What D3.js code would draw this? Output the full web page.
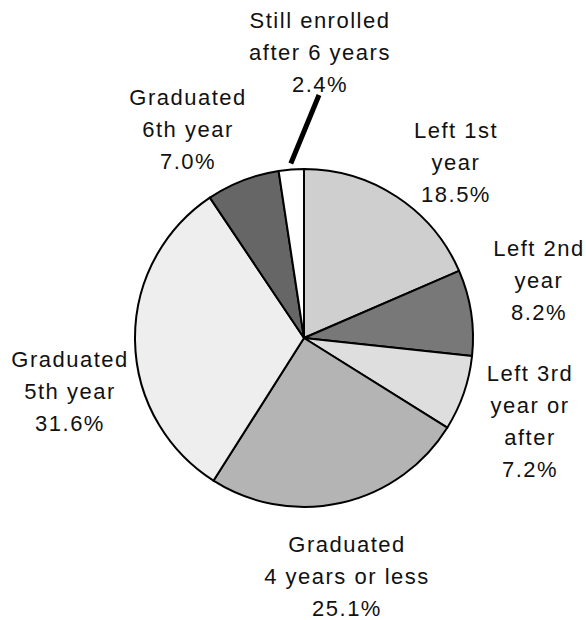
<!DOCTYPE html>
<html>
<head>
<meta charset="utf-8">
<script src="https://cdn.jsdelivr.net/npm/d3@7"></script>
<style>
  html, body { margin: 0; padding: 0; background: #fff; }
  svg text { font-family: "Liberation Sans", Arial, sans-serif; font-size: 22px; letter-spacing: 1.5px; fill: #111; }
</style>
</head>
<body>
<div id="chart"></div>
<script>
  // slices, clockwise from 12 o'clock
  var categories = ['Left 1st year', 'Left 2nd year', 'Left 3rd year or after',
    'Graduated 4 years or less', 'Graduated 5th year', 'Graduated 6th year',
    'Still enrolled after 6 years'];
  var values = [18.5, 8.2, 7.2, 25.1, 31.6, 7.0, 2.4];
  var fills = ['#cfcfcf', '#787878', '#dedede', '#b4b4b4', '#eeeeee', '#666666', '#ffffff'];
  var labelLines = [
    ['Left 1st', 'year', '18.5%'],
    ['Left 2nd', 'year', '8.2%'],
    ['Left 3rd', 'year or', 'after', '7.2%'],
    ['Graduated', '4 years or less', '25.1%'],
    ['Graduated', '5th year', '31.6%'],
    ['Graduated', '6th year', '7.0%'],
    ['Still enrolled', 'after 6 years', '2.4%']
  ];
  // first baseline of each label block
  var labelPos = [[456, 138], [539, 256], [530, 381], [347, 552], [70, 367], [188, 105], [320, 28]];

  var width = 586, height = 620,
      cx = 304, cy = 338,
      radius = 169,
      lineHeight = 32;

  var svg = d3.select('#chart')
    .append('svg')
    .attr('width', width)
    .attr('height', height);

  var pie = d3.pie().sort(null).value(function(d) { return d; });
  var arc = d3.arc().innerRadius(0).outerRadius(radius);
  var arcs = pie(values);

  var g = svg.append('g')
    .attr('transform', 'translate(' + cx + ',' + cy + ')');

  g.selectAll('path')
    .data(arcs)
    .enter()
    .append('path')
    .attr('d', arc)
    .attr('fill', function(d, i) { return fills[i]; })
    .attr('stroke', '#000')
    .attr('stroke-width', 2)
    .attr('stroke-linejoin', 'round');

  // leader line for the small "still enrolled" slice
  var small = arcs[6];
  var mid = (small.startAngle + small.endAngle) / 2;
  var p0 = [Math.sin(mid) * (radius + 6), -Math.cos(mid) * (radius + 6)];
  g.append('line')
    .attr('x1', p0[0])
    .attr('y1', p0[1])
    .attr('x2', 319 - cx)
    .attr('y2', 95 - cy)
    .attr('stroke', '#000')
    .attr('stroke-width', 5);

  labelLines.forEach(function(lines, i) {
    var t = svg.append('text')
      .attr('text-anchor', 'middle')
      .attr('x', labelPos[i][0])
      .attr('y', labelPos[i][1]);
    lines.forEach(function(line, j) {
      t.append('tspan')
        .attr('x', labelPos[i][0])
        .attr('y', labelPos[i][1] + j * lineHeight)
        .text(line);
    });
  });
</script>
</body>
</html>
